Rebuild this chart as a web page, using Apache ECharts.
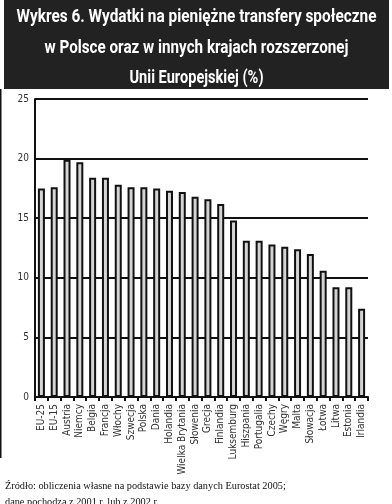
<!DOCTYPE html>
<html><head><meta charset="utf-8">
<script src="https://cdn.jsdelivr.net/npm/echarts@6/dist/echarts.min.js"></script>
<style>html,body{margin:0;padding:0;background:#fff}#c{width:392px;height:504px}</style>
</head><body><div id="c"></div>
<script>
const categories = ['EU-25','EU-15','Austria','Niemcy','Belgia','Francja','Włochy','Szwecja','Polska','Dania','Holandia','Wielka Brytania','Słowenia','Grecja','Finlandia','Luksemburg','Hiszpania','Portugalia','Czechy','Węgry','Malta','Słowacja','Łotwa','Litwa','Estonia','Irlandia'];
const values = [17.5,17.6,19.9,19.7,18.4,18.4,17.8,17.6,17.6,17.5,17.3,17.2,16.8,16.6,16.2,14.8,13.1,13.1,12.8,12.6,12.4,12.0,10.6,9.2,9.2,7.4];
const yTicks = [0,5,10,15,20,25];
const titleLines = ['Wykres 6. Wydatki na pieniężne transfery społeczne','w Polsce oraz w innych krajach rozszerzonej','Unii Europejskiej (%)'];
const footerLines = ['Źródło: obliczenia własne na podstawie bazy danych Eurostat 2005;','dane pochodzą z 2001 r. lub z 2002 r.'];

const titleFont = "bold 18px Roboto, 'Liberation Sans', sans-serif";
const titleY = [17, 48, 78];
const titleTargetW = [360, 304, 134];
const ctx = document.createElement('canvas').getContext('2d');
ctx.font = titleFont;
const titleGraphics = titleLines.map((t, i) => {
  const w = ctx.measureText(t).width;
  return {type:'text', x:196.5, y:titleY[i], scaleX: titleTargetW[i] / w,
    style:{text:t, font:titleFont, fill:'#fff', textAlign:'center', textVerticalAlign:'middle'}};
});

const chart = echarts.init(document.getElementById('c'), null, {renderer:'canvas'});
const narrow = "'Liberation Sans Narrow','DejaVu Sans Condensed',sans-serif";
chart.setOption({
  animation:false,
  backgroundColor:'#fff',
  graphic:[
    {type:'rect', shape:{x:4,y:0,width:385,height:89}, style:{fill:'#222222'}, z:-1},
    {type:'line', shape:{x1:0.75,y1:89,x2:0.75,y2:458}, style:{stroke:'#111',lineWidth:1.5}},
    {type:'text', left:5, top:478, style:{text:footerLines.join('\n'), font:"10.3px 'Liberation Serif', serif", fill:'#111', lineHeight:16}}
  ].concat(titleGraphics),
  grid:{left:35, right:24, top:99, bottom:107, containLabel:false},
  xAxis:{
    type:'category', data:categories,
    axisLine:{lineStyle:{color:'#111', width:2}},
    axisTick:{show:true, length:4, lineStyle:{color:'#111', width:2}},
    axisLabel:{rotate:90, fontSize:10, color:'#333', margin:7, fontFamily:narrow, interval:0}
  },
  yAxis:{
    type:'value', min:yTicks[0], max:yTicks[yTicks.length-1], interval:yTicks[1]-yTicks[0],
    axisLine:{show:true, lineStyle:{color:'#111', width:2}},
    axisTick:{show:false},
    axisLabel:{fontSize:10, color:'#333', margin:6, fontFamily:narrow},
    splitLine:{lineStyle:{color:'#111', width:2}}
  },
  series:[{
    type:'bar', data:values, barWidth:7,
    itemStyle:{color:'#d4d4d4', borderColor:'#111', borderWidth:2}
  }]
});
</script></body></html>
